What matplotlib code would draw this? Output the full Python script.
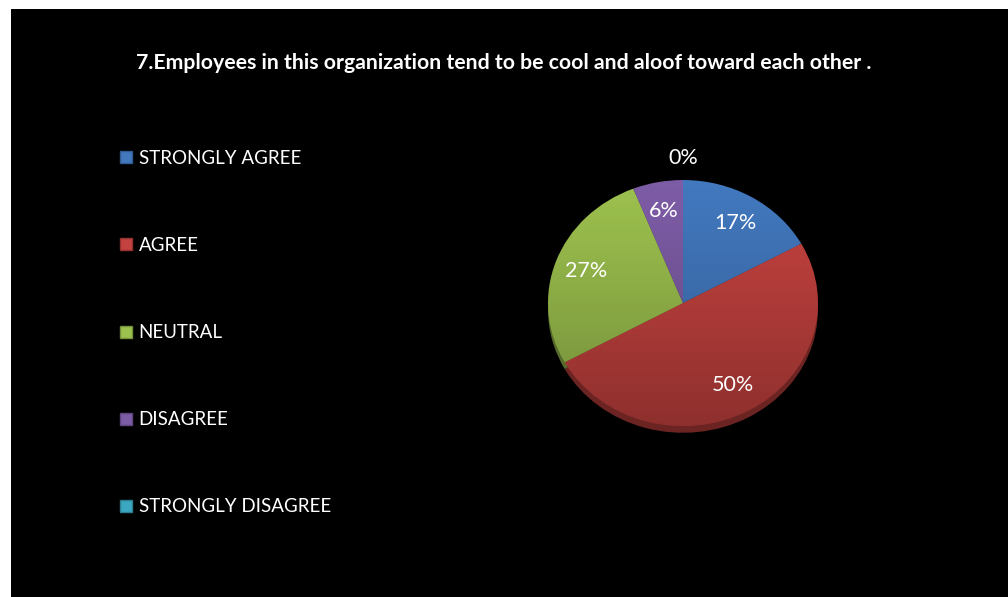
import numpy as np
import matplotlib.pyplot as plt
from matplotlib.lines import Line2D
from matplotlib.patches import Rectangle
from matplotlib.colors import to_rgb

plt.rcParams['font.family'] = ['Lato', 'DejaVu Sans']

categories = ['STRONGLY AGREE', 'AGREE', 'NEUTRAL', 'DISAGREE', 'STRONGLY DISAGREE']
shares = [17, 50, 27, 6, 0]
colors = ['#4278BE', '#C4423F', '#9CC04E', '#7D5CA6', '#3AA8C0']
title = '7.Employees in this organization tend to be cool and aloof toward each other .'


def darker(c, f=0.7):
    r, g, b = to_rgb(c)
    return (r * f, g * f, b * f)


fig = plt.figure(figsize=(10.08, 5.97), dpi=100, facecolor='white')

# black panel leaving a thin white margin on top and left
fig.patches.append(Rectangle((11 / 1008, 0), 1, (597 - 9) / 597,
                             transform=fig.transFigure, facecolor='black',
                             edgecolor='none', zorder=-5))

fig.text(0.5, 1 - 63 / 597, title, ha='center', va='center',
         color='white', fontsize=15.3, fontweight='bold')

# pie drawn in an axes that is squashed a little for the tilted look
ax = fig.add_axes([548 / 1008, 171 / 597, 270 / 1008, 246 / 597])
ax.set_facecolor('none')
ax.axis('off')

# rim underneath
ax.pie(shares, colors=[darker(c, 0.55) for c in colors], startangle=90,
       counterclock=False, radius=1.0, center=(0, -0.055),
       wedgeprops=dict(linewidth=0))

wedges, _, autotexts = ax.pie(
    shares, colors=colors, startangle=90, counterclock=False, radius=1.0,
    autopct=lambda p: f'{p:.0f}%', pctdistance=0.76,
    wedgeprops=dict(linewidth=0),
    textprops=dict(color='white', fontsize=15.5, zorder=5))

# soft top-to-bottom shading on each slice
shade = np.linspace(0, 1, 256).reshape(-1, 1)
shade_rgba = np.zeros((256, 1, 4))
shade_rgba[..., 3] = 0.28 * shade[::-1] ** 1.2
for w in wedges:
    im = ax.imshow(shade_rgba, extent=(-1, 1, -1, 1), origin='lower',
                   aspect='auto', zorder=w.get_zorder() + 0.1,
                   interpolation='bilinear')
    im.set_clip_path(w)

# zero share label sits just above the pie
for t, v in zip(autotexts, shares):
    if v == 0:
        x, y = t.get_position()
        t.set_position((x, 1.18))

ax.set_aspect('auto')
ax.set_xlim(-1, 1)
ax.set_ylim(-1, 1)

handles = [Line2D([], [], linestyle='none', marker='s', markersize=8.5,
                  markerfacecolor=c, markeredgecolor=darker(c, 0.75),
                  markeredgewidth=1.0) for c in colors]
leg = fig.legend(handles, categories, loc='upper left',
                 bbox_to_anchor=(119 / 1008, 1 - 150 / 597),
                 frameon=False, fontsize=13.5, labelcolor='white',
                 handlelength=0.7, handletextpad=0.35,
                 labelspacing=3.735, borderaxespad=0, borderpad=0)

fig.savefig('out.png', dpi=100, facecolor='white')
